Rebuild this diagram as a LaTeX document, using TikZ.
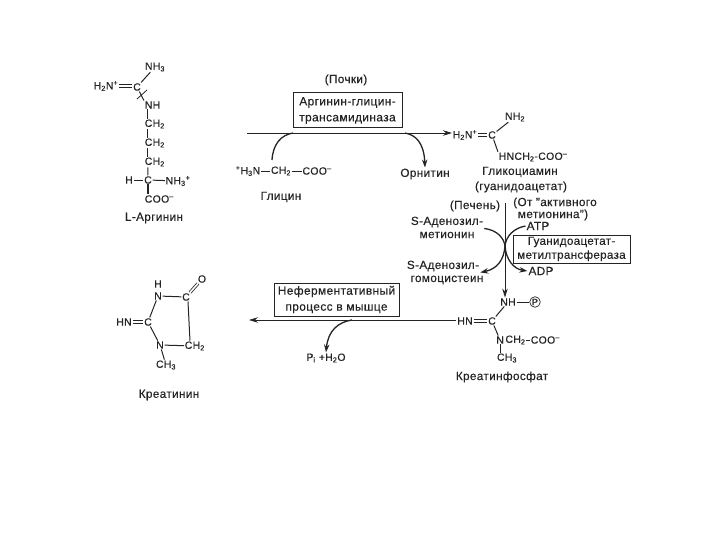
\documentclass[tikz,border=0pt]{standalone}
\usepackage{fontspec}
\setmainfont{Liberation Sans}[LetterSpace=3,FakeBold=0.25]
\usetikzlibrary{arrows.meta}
\definecolor{ink}{gray}{0.14}
\newcommand{\lo}[1]{\textsubscript{#1}}
\newcommand{\hi}[1]{\textsuperscript{#1}}
\newcommand{\dblh}[2]{\draw[bond] ([yshift=1.1pt]#1.east)--([yshift=1.1pt]#1.east -| #2.west) ([yshift=-1.1pt]#1.east)--([yshift=-1.1pt]#1.east -| #2.west);}
\tikzset{
  x=1bp,y=-1bp,
  every node/.style={text=ink,font=\fontsize{10.5}{12}\selectfont},
  atom/.style={inner sep=0.6pt,font=\fontsize{10.5}{12}\selectfont},
  name label/.style={inner sep=1pt,font=\fontsize{11.8}{13}\selectfont,align=center},
  enzyme/.style={draw=ink,line width=1pt,fill=white,align=center,inner sep=0pt,font=\fontsize{12}{16}\selectfont},
  bond/.style={draw=ink,line width=1pt},
  dbl/.style={draw=ink,double=white,line width=0.8pt,double distance=1.6pt},
  main/.style={draw=ink,line width=0.9pt,-{Stealth[length=9pt,width=5.5pt]}},
  branch/.style={draw=ink,line width=1.3pt},
  brancharrow/.style={branch,-{Stealth[length=8pt,width=5.5pt]}},
}
\begin{document}
\begin{tikzpicture}
\useasboundingbox (0,0) rectangle (720,540);
\fill[white] (0,0) rectangle (720,540);

% L-arginine
\node[atom] (aNHa) at (155,67) {NH\lo{3}};
\node[atom] (aHN) at (106,86) {H\lo{2}N\hi{+}};
\node[atom] (aC) at (137,87) {C};
\node[atom,anchor=west] (aNH) at (144,105) {NH};
\node[atom,anchor=west] (aCa) at (144,124) {CH\lo{2}};
\node[atom,anchor=west] (aCb) at (144,143) {CH\lo{2}};
\node[atom,anchor=west] (aCc) at (144,162) {CH\lo{2}};
\node[atom] (aH) at (129,180) {H};
\node[atom] (aCd) at (148,180) {C};
\node[atom] (aNHb) at (178,181) {NH\lo{3}\hi{+}};
\node[atom,anchor=west] (aCOO) at (144,199) {COO\hi{--}};
\node[name label] (aName) at (154,218) {L-Аргинин};
\draw[bond] (aC)--(aNHa);
\dblh{aHN}{aC}
\draw[bond] (aC)--(aNH.north west);
\foreach \u/\v in {aNH/aCa,aCa/aCb,aCb/aCc}
  \draw[bond] ([xshift=4pt]\u.south west)--([xshift=4pt]\v.north west);
\draw[bond] (aH)--(aCd);
\draw[bond] (aCd)--(aNHb);
\draw[bond] ([xshift=4pt]aCc.south west)--(aCd);
\draw[bond,line width=1.4pt] (aCd)--(aCOO.north west -| aCd);
\coordinate (crA) at (137,99);
\coordinate (crB) at (147,90);
\draw[bond,line width=0.8pt] (crA)--(crB);

% top reaction
\node[name label] (kidney) at (346,80) {(Почки)};
\node[enzyme,minimum width=109bp,minimum height=35bp] (enzA) at (347.5,110.5) {Аргинин-глицин-\\трансамидиназа};
\node[atom] (gHN) at (248,171) {\hi{+}H\lo{3}N};
\node[atom] (gC) at (281,171) {CH\lo{2}};
\node[atom] (gCOO) at (317,171) {COO\hi{--}};
\node[name label] (gName) at (281,197) {Глицин};
\node[name label] (orn) at (425,174) {Орнитин};
\draw[bond] (gHN)--(gC);
\draw[bond] (gC)--(gCOO);
\coordinate (tStart) at (247,133);
\coordinate (gIn) at (293,133);
\coordinate (oOut) at (405,133);
\coordinate (gFrom) at (272,160);
\node[atom] (hHN) at (465,135) {H\lo{2}N\hi{+}};
\draw[main] (tStart)--(tStart -| hHN.west);
\draw[branch] (gFrom) .. controls (273,144) and (281,135) .. (gIn);
\draw[brancharrow] (oOut) .. controls (416,135) and (424,143) .. (orn.north);

% glycocyamine
\node[atom] (hC) at (492,135) {C};
\node[atom] (hNH) at (515,117) {NH\lo{2}};
\node[atom] (hHNC) at (533,157) {HNCH\lo{2}-COO\hi{--}};
\dblh{hHN}{hC}
\draw[bond] (hC)--(hNH);
\draw[bond] (hC)--(hHNC.north west);
\node[name label] (hName) at (520,172) {Гликоциамин};
\node[name label] (hName2) at (521,187) {(гуанидоацетат)};
\node[name label] (liver) at (475,206) {(Печень)};
\node[name label] (fromA) at (555,203) {(От ''активного};
\node[name label] (fromB) at (553,215) {метионина'')};

% methylation
\node[name label] (samA) at (447,222) {S-Аденозил-};
\node[name label] (samB) at (447,235) {метионин};
\node[name label] (atp) at (538,226) {ATP};
\node[enzyme,minimum width=117bp,minimum height=28bp,font=\fontsize{11.6}{14}\selectfont] (enzB) at (571.5,249) {Гуанидоацетат-\\метилтрансфераза};
\node[name label] (sahA) at (443,266) {S-Аденозил-};
\node[name label] (sahB) at (447,280) {гомоцистеин};
\node[name label] (adp) at (541,271) {ADP};
\node[atom] (pNH) at (508,302) {NH};
\coordinate (vTop) at (505,203);
\coordinate (vMid) at (505,246);
\draw[main] (vTop)--(pNH.north -| vTop);
\draw[branch] (samA.south east) .. controls (497,230) and (504,238) .. (vMid);
\draw[branch] (atp.west) .. controls (514,228) and (506,236) .. (vMid);
\draw[brancharrow] (vMid) .. controls (504,260) and (497,269) .. (sahA.south east);
\draw[brancharrow] (vMid) .. controls (506,260) and (514,269) .. (adp.west);

% creatine phosphate
\node[atom] (pHN) at (465,321) {HN};
\node[atom] (pC) at (492,321) {C};
\node[atom,anchor=west] (pN) at (495.5,340) {N};
\node[atom,anchor=west] (pCH) at (pN.east) {CH\lo{2}};
\node[atom,anchor=west] (pCOO) at (530,340) {COO\hi{--}};
\node[atom] (pMe) at (507,358) {CH\lo{3}};
\node[draw=ink,circle,inner sep=0.7pt,line width=0.7pt,font=\fontsize{9}{10}\selectfont] (pP) at (535,302) {P};
\node[name label] (pName) at (502,377) {Креатинфосфат};
\draw[bond] (pNH)--(pP);
\draw[bond] (pC)--(pNH);
\dblh{pHN}{pC}
\draw[bond] (pC)--(pN);
\draw[bond] (pCH)--(pCOO);
\draw[bond] (pN)--(pN |- pMe.north);

% bottom reaction
\node[enzyme,minimum width=125bp,minimum height=33bp] (enzC) at (336.5,299.5) {Неферментативный\\процесс в мышце};
\coordinate (bEnd) at (249,320);
\coordinate (bOut) at (352,320);
\node[name label,font=\fontsize{10.5}{12}\selectfont] (pi) at (326,358) {P\lo{i} +H\lo{2}O};
\draw[main] (pHN.west |- bEnd)--(bEnd);
\draw[brancharrow] (bOut) .. controls (338,322) and (328,331) .. (pi.north);

% creatinine
\node[atom] (cH) at (158,284) {H};
\node[atom] (cN) at (158,296) {N};
\node[atom] (cC) at (186,297) {C};
\node[atom] (cO) at (202,279) {O};
\node[atom] (cCb) at (148,322) {C};
\node[atom] (cHN) at (124,322) {HN};
\node[atom] (cNb) at (160,345) {N};
\node[atom,anchor=west] (cCH) at (184,346) {CH\lo{2}};
\node[atom] (cMe) at (166,365) {CH\lo{3}};
\node[name label] (cName) at (169,395) {Креатинин};
\draw[bond] (cN)--(cC);
\draw[dbl] (cC)--(cO);
\draw[bond] (cN)--(cCb);
\dblh{cHN}{cCb}
\draw[bond] (cCb)--(cNb);
\draw[bond] (cNb)--(cCH);
\draw[bond] ([xshift=2pt]cC.south)--([xshift=6pt]cCH.north west);
\draw[bond] (cNb)--(cMe);
\end{tikzpicture}
\end{document}
